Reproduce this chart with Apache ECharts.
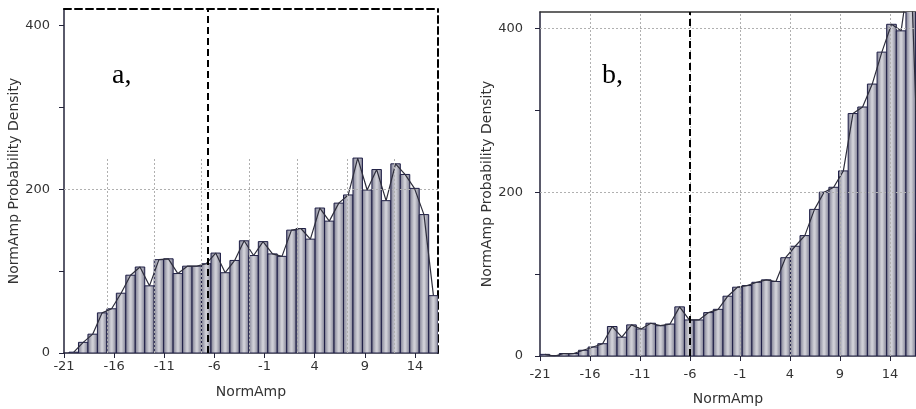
<!DOCTYPE html>
<html><head><meta charset="utf-8">
<script src="https://cdn.jsdelivr.net/npm/echarts@6/dist/echarts.min.js"></script>
<style>html,body{margin:0;padding:0;background:#fff}#c{width:916px;height:409px}</style>
</head><body><div id="c"></div>
<script>
// ---- data ----
const xTickLabels = [-21, -16, -11, -6, -1, 4, 9, 14];
const valuesA = [1, 13, 23, 49, 54, 73, 95, 105, 82, 114, 115, 97, 106, 106, 109, 122, 98, 113, 137,
  119, 136, 121, 118, 150, 152, 139, 177, 161, 183, 193, 238, 199, 224, 186, 231, 218, 201, 169, 70];
const valuesB = [2, 0, 3, 3, 7, 11, 15, 36, 23, 38, 33, 40, 37, 39, 60, 44, 44, 53, 57, 73,
  84, 86, 90, 93, 91, 120, 134, 147, 179, 200, 206, 226, 296, 304, 332, 371, 405, 397, 480, 150];
const binStartA = -20.5, binWidthA = 0.944;
const binStartB = -21, binWidthB = 0.963;
const gridXA = [-16.7, -12, -7.3, -2.5, 2.3, 7.2, 11.9];
const gridXB = [-16, -11, -6, -1, 4, 9, 14];
const gridYA = [200];
const gridYB = [200, 400];
const dashXA = [-6.7];
const dashXB = [-6];
const panelLabels = ['a,', 'b,'];
const xName = 'NormAmp';
const yName = 'NormAmp Probability Density';

const X0 = xTickLabels[0];
const toU = x => x - X0;
const FONT = 'DejaVu Sans';
const AXC = '#23233a';

function bins(values, start, w) {
  return values.map((v, i) => [toU(start + i * w), toU(start + (i + 1) * w), v]);
}
function centers(values, start, w) {
  return values.map((v, i) => [toU(start + (i + 0.5) * w), v]);
}
const fill = new echarts.graphic.LinearGradient(0, 0, 1, 0, [
  {offset: 0, color: '#77778c'}, {offset: 0.45, color: '#cfcfd6'},
  {offset: 0.55, color: '#cfcfd6'}, {offset: 1, color: '#77778c'}]);

function renderBar(params, api) {
  const p0 = api.coord([api.value(0), api.value(2)]);
  const p1 = api.coord([api.value(1), 0]);
  return {type: 'rect', shape: {x: p0[0], y: p0[1], width: p1[0] - p0[0], height: p1[1] - p0[1]},
    style: {fill: fill, stroke: '#1e1e46', lineWidth: 1}};
}
const xFmt = v => { const r = Math.round(v); return (Math.abs(v - r) < 1e-6 && r % 5 === 0) ? String(r + X0) : ''; };
const yFmt = v => (v % 200 === 0 ? String(v) : '');

function bottomX(gi, maxU, margin, nameGap) {
  return {type: 'value', gridIndex: gi, min: 0, max: maxU, interval: 5, position: 'bottom',
    axisLine: {onZero: false, lineStyle: {color: AXC, width: 1.5}},
    axisTick: {show: true, length: 5, lineStyle: {color: AXC}},
    axisLabel: {formatter: xFmt, color: '#333', fontSize: 13, fontFamily: FONT, margin: margin, showMaxLabel: false},
    splitLine: {show: false},
    name: xName, nameLocation: 'middle', nameGap: nameGap,
    nameTextStyle: {color: '#333', fontSize: 14, fontFamily: FONT}};
}
function topX(gi, maxU, dashed) {
  return {type: 'value', gridIndex: gi, min: 0, max: maxU, position: 'top',
    axisLine: {onZero: false, lineStyle: {color: dashed ? '#000' : '#333', width: dashed ? 2 : 1.5, type: dashed ? [7, 4] : 'solid'}},
    axisTick: {show: false}, axisLabel: {show: false}, splitLine: {show: false}};
}
function leftY(gi, margin) {
  return {type: 'value', gridIndex: gi, min: 0, max: 420, interval: 100, position: 'left',
    axisLine: {show: true, onZero: false, lineStyle: {color: AXC, width: 1.5}},
    axisTick: {show: true, length: 5, lineStyle: {color: AXC}},
    axisLabel: {formatter: yFmt, color: '#333', fontSize: 13, fontFamily: FONT, margin: margin, showMaxLabel: false},
    splitLine: {show: false},
    name: yName, nameLocation: 'middle', nameGap: 33, nameRotate: 90,
    nameTextStyle: {color: '#333', fontSize: 14, fontFamily: FONT}};
}

function panelSeries(xi, yi, values, start, w, gx, gy, gTop, dash) {
  const lineData = centers(values, start, w);
  const gridLines = gx.map(x => [{coord: [toU(x), 0]}, {coord: [toU(x), gTop]}])
    .concat(gy.map(y => ({yAxis: y})));
  return [
    {type: 'line', xAxisIndex: xi, yAxisIndex: yi, z: 1, data: lineData, showSymbol: false,
      lineStyle: {opacity: 0}, silent: true, animation: false,
      markLine: {silent: true, symbol: ['none', 'none'], label: {show: false}, animation: false,
        lineStyle: {type: [2, 2], color: '#b0b0b0', width: 1}, data: gridLines}},
    {type: 'custom', xAxisIndex: xi, yAxisIndex: yi, z: 2, clip: true, animation: false,
      renderItem: renderBar, encode: {x: [0, 1], y: 2}, data: bins(values, start, w)},
    {type: 'line', xAxisIndex: xi, yAxisIndex: yi, z: 3, data: lineData, showSymbol: false,
      smooth: false, clip: true, animation: false,
      lineStyle: {color: '#2e2e3c', width: 1.2},
      markLine: {silent: true, symbol: ['none', 'none'], label: {show: false}, animation: false,
        lineStyle: {type: [7, 4], color: '#000', width: 2}, data: dash.map(x => ({xAxis: toU(x)}))}}
  ];
}

const maxUA = 37.3, maxUB = 37.6;
const option = {
  backgroundColor: '#fff',
  animation: false,
  grid: [
    {left: 64, right: 478, top: 9, bottom: 56, outerBoundsMode: 'none'},
    {left: 540, right: 0, top: 12, bottom: 53, outerBoundsMode: 'none'}
  ],
  xAxis: [bottomX(0, maxUA, 7, 32), topX(0, maxUA, true), bottomX(1, maxUB, 12, 36), topX(1, maxUB, false)],
  yAxis: [leftY(0, 14),
    {type: 'value', gridIndex: 0, min: 0, max: 420, position: 'right',
      axisLine: {show: true, onZero: false, lineStyle: {color: '#000', width: 2, type: [7, 4]}},
      axisTick: {show: false}, axisLabel: {show: false}, splitLine: {show: false}},
    leftY(1, 17)],
  graphic: [
    {type: 'text', left: 112, top: 62, style: {text: panelLabels[0], font: '28px "Liberation Serif"', fill: '#000'}},
    {type: 'text', left: 602, top: 62, style: {text: panelLabels[1], font: '28px "Liberation Serif"', fill: '#000'}}
  ],
  series: [].concat(
    panelSeries(0, 0, valuesA, binStartA, binWidthA, gridXA, gridYA, 237, dashXA),
    panelSeries(2, 2, valuesB, binStartB, binWidthB, gridXB, gridYB, 420, dashXB)
  )
};
const chart = echarts.init(document.getElementById('c'), null, {renderer: 'canvas'});
chart.setOption(option);
</script></body></html>
